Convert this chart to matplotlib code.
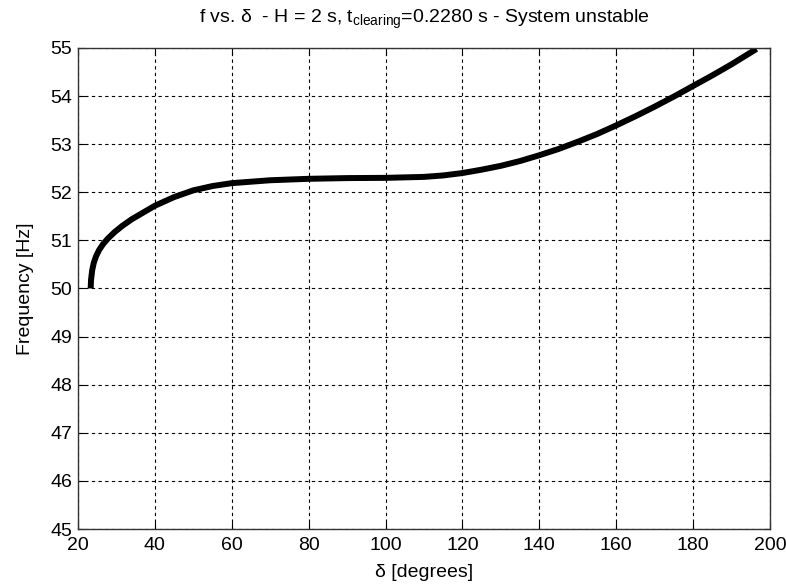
import matplotlib
matplotlib.use("Agg")
import matplotlib.pyplot as plt
import numpy as np

# rotor angle [deg] and frequency [Hz]
delta = [23.3, 23.4, 23.7, 24.1, 24.7, 25.5, 26.5, 27.8, 29.5, 31.5, 34, 37, 40,
         45, 50, 55, 60, 70, 80, 90, 100, 110, 115, 120, 125, 130, 135, 140, 145,
         150, 155, 160, 165, 170, 175, 180, 185, 190, 196.5]
freq = [50.0, 50.18, 50.38, 50.53, 50.67, 50.8, 50.92, 51.04, 51.17, 51.3, 51.44,
        51.58, 51.72, 51.9, 52.04, 52.13, 52.19, 52.25, 52.28, 52.295, 52.3, 52.32,
        52.35, 52.4, 52.47, 52.55, 52.65, 52.77, 52.9, 53.05, 53.21, 53.39, 53.58,
        53.78, 53.99, 54.21, 54.43, 54.66, 54.98]

xticks = np.arange(20, 201, 20)
yticks = np.arange(45, 56, 1)

plt.rcParams['font.family'] = ['Liberation Sans', 'DejaVu Sans']
plt.rcParams['mathtext.fontset'] = 'custom'
plt.rcParams['mathtext.rm'] = 'Liberation Sans'
plt.rcParams['mathtext.it'] = 'Liberation Sans:italic'

fig = plt.figure(figsize=(7.86, 5.85), dpi=100)
ax = fig.add_axes([0.0992, 0.0957, 0.8804, 0.8223])

ax.plot(delta, freq, color="black", linewidth=4.3, solid_capstyle="butt",
        solid_joinstyle="round")

ax.set_xlim(20, 200)
ax.set_ylim(45, 55)
ax.set_xticks(xticks)
ax.set_yticks(yticks)
ax.tick_params(direction="in", length=5, width=0.8, top=True, right=True,
               labelsize=14, colors="black")
ax.tick_params(axis="x", pad=6)
ax.tick_params(axis="y", pad=4)
ax.grid(True, color="black", linestyle=(0, (3, 3)), linewidth=0.8)
for s in ax.spines.values():
    s.set_linewidth(1.0)
    s.set_color("#333333")

ax.set_xlabel("δ [degrees]", fontsize=14, labelpad=7)
ax.set_ylabel("Frequency [Hz]", fontsize=14, labelpad=12)
ax.set_title(r"f vs. δ  - H = 2 s, t$_{\mathrm{clearing}}$=0.2280 s - System unstable",
             fontsize=14, pad=18)

fig.savefig("out.png", dpi=100)
